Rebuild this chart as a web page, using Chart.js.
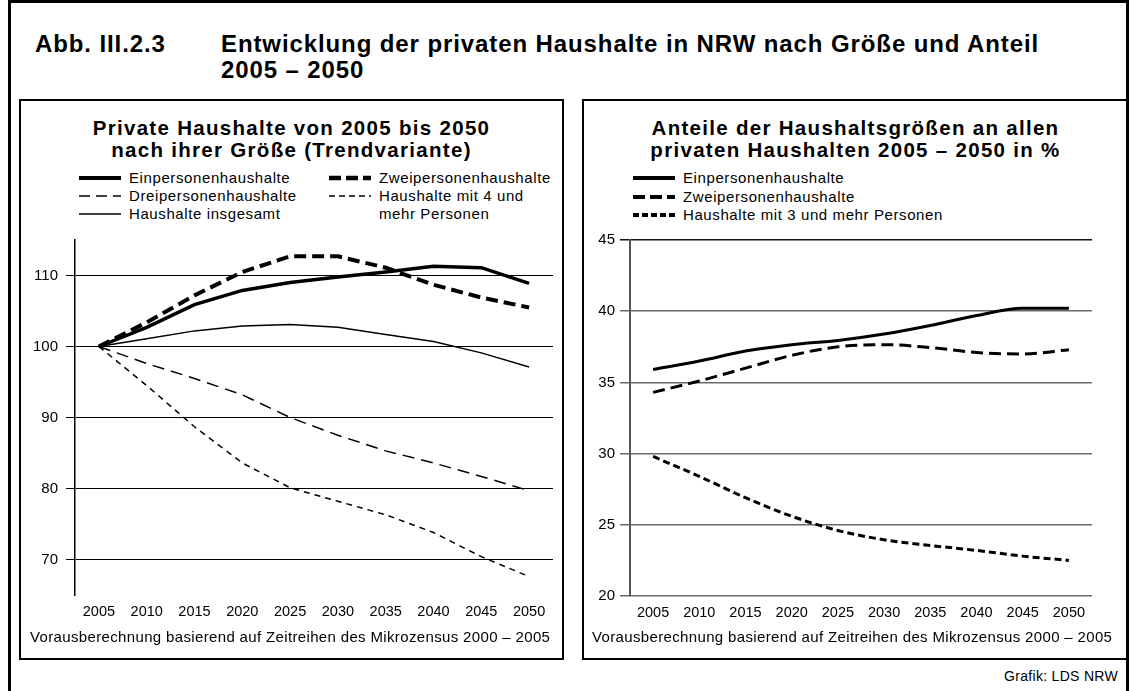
<!DOCTYPE html>
<html><head><meta charset="utf-8">
<script src="https://cdn.jsdelivr.net/npm/chart.js@4.4.1/dist/chart.umd.min.js"></script>
<style>
body{margin:0;width:1131px;height:691px;overflow:hidden;background:#fff;position:relative;font-family:"Liberation Sans",Arial,sans-serif;color:#000}
.abs{position:absolute}
#frame{left:8px;top:0px;width:1121px;height:760px;border:3px solid #000;box-sizing:border-box}
.panel{position:absolute;border:2px solid #000;box-sizing:border-box;top:99px;height:561px}
#pl{left:19px;width:545px}
#pr{left:582px;width:547px}
.title{position:absolute;font-weight:bold;font-size:24px;letter-spacing:0.9px;line-height:26px;white-space:nowrap}
.ptitle{position:absolute;font-weight:bold;font-size:20.5px;letter-spacing:1.3px;text-align:center;line-height:22px;white-space:nowrap}
.leg{position:absolute;font-size:15px;letter-spacing:0.6px;line-height:18px;height:18px;white-space:nowrap}
.leg svg{position:absolute;left:0;top:0}
.leg span{position:absolute;top:0}
.foot{position:absolute;font-size:15px;letter-spacing:0.35px;line-height:18px;white-space:nowrap}
canvas{position:absolute}
</style></head>
<body>
<div id="frame" class="abs"></div>
<div class="title" style="left:35px;top:31px">Abb. III.2.3</div>
<div class="title" style="left:221px;top:31px">Entwicklung der privaten Haushalte in NRW nach Größe und Anteil</div>
<div class="title" style="left:221px;top:57px">2005 – 2050</div>

<div id="pl" class="panel"></div>
<div id="pr" class="panel"></div>

<div class="ptitle" style="left:20px;width:543px;top:117px">Private Haushalte von 2005 bis 2050<br>nach ihrer Größe (Trendvariante)</div>
<div class="ptitle" style="left:583px;width:545px;top:117px">Anteile der Haushaltsgrößen an allen<br>privaten Haushalten 2005 – 2050 in %</div>

<div id="legL"></div>
<div id="legR"></div>

<canvas id="cL" width="543" height="400" style="left:20px;top:230px"></canvas>
<canvas id="cR" width="545" height="400" style="left:583px;top:230px"></canvas>

<div class="foot" style="left:30px;top:628px">Vorausberechnung basierend auf Zeitreihen des Mikrozensus 2000 – 2005</div>
<div class="foot" style="left:592px;top:628px">Vorausberechnung basierend auf Zeitreihen des Mikrozensus 2000 – 2005</div>
<div class="foot" style="right:13px;top:667px;font-size:14px;letter-spacing:0.3px">Grafik: LDS NRW</div>

<script>
// ---- data ----
const years = ['2005','2010','2015','2020','2025','2030','2035','2040','2045','2050'];

// left chart: index (2005 = 100)
const leftNames = ['Einpersonenhaushalte','Zweipersonenhaushalte','Dreipersonenhaushalte','Haushalte mit 4 und mehr Personen','Haushalte insgesamt'];
const leftEin    = [100, 102.7, 105.9, 107.9, 109.0, 109.8, 110.5, 111.3, 111.1, 108.9];
const leftZwei   = [100, 103.4, 107.2, 110.5, 112.7, 112.7, 111.1, 108.7, 106.9, 105.5];
const leftDrei   = [100, 97.6, 95.5, 93.2, 90.0, 87.5, 85.3, 83.6, 81.7, 79.7];
const leftVier   = [100, 94.5, 88.7, 83.6, 80.1, 78.2, 76.3, 73.8, 70.4, 67.6];
const leftGesamt = [100, 101.1, 102.2, 102.9, 103.1, 102.7, 101.7, 100.7, 99.1, 97.1];
const leftTicks  = [70, 80, 90, 100, 110];

// right chart: shares in %
const rightNames = ['Einpersonenhaushalte','Zweipersonenhaushalte','Haushalte mit 3 und mehr Personen'];
const rightEin   = [35.9, 36.5, 37.2, 37.65, 37.95, 38.4, 39.0, 39.7, 40.2, 40.2];
const rightZwei  = [34.3, 35.1, 36.0, 36.9, 37.5, 37.65, 37.45, 37.1, 37.0, 37.3];
const rightDrei  = [29.8, 28.4, 26.9, 25.6, 24.6, 23.95, 23.55, 23.2, 22.8, 22.5];
const rightTicks = [20, 25, 30, 35, 40, 45];

// ---- styles ----
const FONT = '"Liberation Sans", Arial, sans-serif';
const leftStyles = [
  {w:3.5, dash:[]},
  {w:4, dash:[12,6]},
  {w:1.5, dash:[12,7]},
  {w:1.5, dash:[6,5]},
  {w:1.5, dash:[]}
];
const rightStyles = [
  {w:3, dash:[]},
  {w:3, dash:[12,6]},
  {w:3, dash:[7,4]}
];

// ---- legends (HTML) ----
function legItem(parent, x, y, st, text) {
  const d = document.createElement('div');
  d.className = 'leg';
  d.style.left = x + 'px';
  d.style.top = (y - 9) + 'px';
  let svg = '';
  if (st) {
    svg = `<svg width="44" height="18"><line x1="1" y1="9" x2="43" y2="9" stroke="#000" stroke-width="${st.w}" ${st.dash.length ? 'stroke-dasharray="' + st.dash.join(',') + '"' : ''}/></svg>`;
  }
  d.innerHTML = svg + `<span style="left:51px">${text}</span>`;
  document.getElementById(parent).appendChild(d);
}
legItem('legL', 78, 178, {w:4, dash:[]}, leftNames[0]);
legItem('legL', 78, 196, {w:1.5, dash:[11,6]}, leftNames[2]);
legItem('legL', 78, 214, {w:1.5, dash:[]}, leftNames[4]);
legItem('legL', 328, 178, {w:4.5, dash:[12,5]}, leftNames[1]);
legItem('legL', 328, 196, {w:1.5, dash:[6,4]}, 'Haushalte mit 4 und');
legItem('legL', 328, 214, null, 'mehr Personen');
legItem('legR', 632, 178, {w:4, dash:[]}, rightNames[0]);
legItem('legR', 632, 197, {w:4, dash:[12,5]}, rightNames[1]);
legItem('legR', 632, 215, {w:4, dash:[6,3]}, rightNames[2]);

// ---- charts ----
function ds(label, data, st, mono) {
  return {
    label, data,
    borderColor:'#000', backgroundColor:'#000',
    borderWidth: st.w, borderDash: st.dash,
    pointRadius:0, pointHoverRadius:0, fill:false,
    tension: mono ? 0.4 : 0,
    cubicInterpolationMode: mono ? 'monotone' : 'default',
    borderCapStyle:'butt', borderJoinStyle:'miter'
  };
}

Chart.defaults.font.family = FONT;
Chart.defaults.color = '#000';

function fixY(width) {
  return s => { s.width = width; s.paddingTop = 0; s.paddingBottom = 0; };
}

new Chart(document.getElementById('cL'), {
  type:'line',
  data:{
    labels: years,
    datasets:[
      ds(leftNames[0], leftEin, leftStyles[0]),
      ds(leftNames[1], leftZwei, leftStyles[1]),
      ds(leftNames[2], leftDrei, leftStyles[2]),
      ds(leftNames[3], leftVier, leftStyles[3]),
      ds(leftNames[4], leftGesamt, leftStyles[4])
    ]
  },
  options:{
    responsive:false, animation:false, devicePixelRatio:1,
    layout:{padding:{left:0, right:10, top:10, bottom:0}},
    plugins:{legend:{display:false}, tooltip:{enabled:false}},
    scales:{
      x:{
        offset:true,
        grid:{display:false, drawTicks:false},
        border:{display:false},
        ticks:{color:'#000', font:{size:14.5}, padding:8, maxRotation:0, autoSkip:false},
        afterFit: s => { s.height = 35; s.paddingLeft = 0; s.paddingRight = 0; }
      },
      y:{
        min:65, max:115,
        afterBuildTicks: s => { s.ticks = leftTicks.map(v => ({value:v})); },
        afterFit: fixY(55),
        grid:{color:'#000', lineWidth:1, tickLength:9, drawTicks:true},
        border:{color:'#000', width:1.5},
        ticks:{color:'#000', font:{size:15}, padding:8}
      }
    }
  }
});

new Chart(document.getElementById('cR'), {
  type:'line',
  data:{
    labels: years,
    datasets:[
      ds(rightNames[0], rightEin, rightStyles[0], true),
      ds(rightNames[1], rightZwei, rightStyles[1], true),
      ds(rightNames[2], rightDrei, rightStyles[2], true)
    ]
  },
  options:{
    responsive:false, animation:false, devicePixelRatio:1,
    layout:{padding:{left:0, right:36, top:10, bottom:0}},
    plugins:{legend:{display:false}, tooltip:{enabled:false}},
    scales:{
      x:{
        offset:true,
        grid:{display:false, drawTicks:false},
        border:{display:false},
        ticks:{color:'#000', font:{size:14.5}, padding:8, maxRotation:0, autoSkip:false},
        afterFit: s => { s.height = 34; s.paddingLeft = 0; s.paddingRight = 0; }
      },
      y:{
        min:20, max:45,
        afterBuildTicks: s => { s.ticks = rightTicks.map(v => ({value:v})); },
        afterFit: fixY(47),
        grid:{color: c => (c.tick && c.tick.value === 45) ? '#111' : '#6a6a6a', lineWidth:1.5, tickLength:10, drawTicks:true},
        border:{color:'#555', width:2},
        ticks:{color:'#000', font:{size:15}, padding:5}
      }
    }
  }
});
</script>
</body></html>
